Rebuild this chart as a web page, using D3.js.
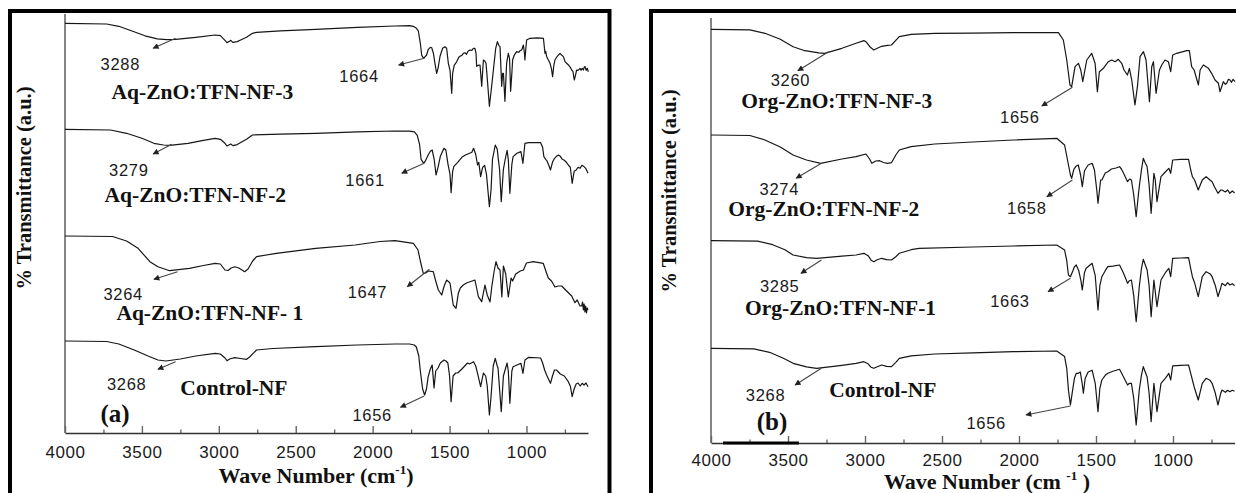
<!DOCTYPE html>
<html><head><meta charset="utf-8">
<script src="https://cdn.jsdelivr.net/npm/d3@7"></script>
<style>html,body{margin:0;padding:0;background:#fff;}svg{display:block;}</style>
</head><body><svg id="chart" width="1236" height="493"></svg>
<script>
// ---------- DATA (wavenumber cm-1, relative transmittance a.u.) ----------
const majorTicks = [4000, 3500, 3000, 2500, 2000, 1500, 1000];
const minorTicks = [3750, 3250, 2750, 2250, 1750, 1250, 750];

// Panel (a)
const aqNF3 = [[4000,0],[3730,-0.7],[3650,-3],[3560,-8],[3480,-12.5],[3400,-15.5],[3340,-16.3],[3280,-16],[3150,-14],[3024,-11.7],[2990,-12.3],[2960,-17],[2947,-19.3],[2930,-18],[2922,-17],[2909,-19],[2880,-18.3],[2858,-16.7],[2820,-14],[2781,-10],[2755,-9],[2600,-7.5],[2370,-6],[2100,-4],[1857,-2.7],[1760,-2.3],[1736,-3],[1715,-5],[1703,-7.7],[1690,-20],[1681,-32],[1668,-35],[1660,-33.5],[1650,-32],[1638,-26],[1625,-24],[1616,-24.5],[1605,-30],[1595,-40],[1584,-50],[1575,-45],[1562,-33],[1545,-25],[1530,-23.5],[1519,-25],[1508,-40],[1497,-47],[1490,-62],[1486,-70],[1480,-50],[1470,-42],[1454,-38.5],[1440,-34],[1432,-33],[1420,-32],[1410,-30],[1400,-29.5],[1390,-31],[1380,-28],[1367,-26.7],[1355,-27],[1345,-25],[1335,-25],[1328,-30],[1324,-43],[1315,-42],[1302,-41.7],[1291,-63],[1280,-36.7],[1270,-38],[1263,-40],[1255,-55],[1241,-83],[1230,-68],[1215,-46.7],[1200,-25],[1189,-18.4],[1180,-22],[1172,-23.3],[1161,-63],[1155,-50],[1150,-50],[1140,-78],[1129,-40],[1118,-30],[1110,-35],[1103,-68],[1095,-50],[1090,-36.7],[1080,-32],[1064,-28.3],[1050,-29],[1040,-27],[1031,-26.7],[1025,-24],[1020,-21.7],[1013,-30],[1010,-36.7],[1004,-25],[999,-16.7],[977,-15],[930,-14.5],[890,-15],[885,-22],[880,-30],[875,-28],[869,-33.3],[860,-36],[847,-40],[838,-45],[830,-53.4],[822,-42],[815,-36.7],[800,-33],[782,-30],[770,-32],[760,-33.3],[750,-38],[739,-40],[725,-42],[715,-44],[706,-46.7],[698,-48],[689,-56.7],[680,-51],[674,-46.7],[665,-47],[652,-45],[645,-47],[638,-45],[630,-46.7],[625,-44],[619,-43.3],[612,-47],[605,-45],[598,-48.4]];
const aqNF2 = [[4000,0],[3704,-0.7],[3600,-4],[3500,-9],[3422,-14],[3360,-15.7],[3320,-16],[3200,-14],[3100,-11],[3024,-9],[2990,-10],[2960,-14],[2947,-16.7],[2922,-14.7],[2909,-16.3],[2880,-15.3],[2858,-13.3],[2820,-10],[2781,-5.7],[2600,-4.8],[2370,-4],[2100,-2.5],[1857,-1.7],[1760,-1.8],[1729,-2.5],[1710,-6],[1695,-15],[1685,-30],[1668,-34],[1655,-31],[1639,-25.7],[1625,-22],[1613,-20.7],[1600,-30],[1588,-45.7],[1575,-38],[1560,-27],[1536,-19],[1524,-20.7],[1510,-35],[1497,-45],[1490,-63.4],[1480,-42],[1472,-37],[1447,-33],[1420,-28],[1400,-26],[1370,-24],[1355,-23],[1344,-19],[1330,-25],[1318,-35.7],[1310,-33],[1298,-47.4],[1285,-38],[1272,-36],[1260,-45],[1241,-77.4],[1230,-60],[1221,-30],[1203,-15.7],[1190,-20],[1185,-27.3],[1175,-40],[1164,-72.4],[1150,-40],[1139,-30.7],[1126,-21],[1118,-30],[1108,-64],[1095,-35],[1087,-27.3],[1062,-24],[1036,-22.3],[1023,-34],[1010,-14],[985,-13.4],[908,-13.4],[895,-18],[887,-27.3],[875,-30],[869,-31],[855,-36],[844,-40.7],[831,-33],[818,-29],[805,-27],[792,-25.7],[780,-27],[767,-30],[754,-31],[740,-33],[728,-35.7],[715,-38],[703,-54],[690,-42],[677,-40.7],[665,-38],[651,-39],[640,-36],[626,-37.3],[615,-39],[600,-44]];
const aqNF1 = [[4000,0],[3691,-0.5],[3600,-5],[3525,-12.3],[3448,-25.7],[3396,-30.7],[3320,-34.7],[3191,-32.3],[3100,-29.5],[3024,-27.3],[2990,-28],[2960,-34],[2940,-34.5],[2920,-32],[2896,-30.7],[2870,-32],[2832,-35.7],[2810,-33],[2780,-25],[2755,-20.7],[2627,-17.3],[2370,-12.3],[2114,-9],[1952,-5.5],[1855,-4.7],[1735,-7.3],[1705,-14],[1690,-25],[1671,-37.3],[1655,-37],[1638,-35],[1606,-35.7],[1590,-45],[1573,-54],[1551,-59],[1535,-50],[1519,-44],[1497,-47],[1476,-69],[1458,-72.3],[1443,-57.3],[1430,-52],[1411,-49],[1390,-47],[1367,-45.7],[1335,-44],[1320,-55],[1313,-60.7],[1291,-65.7],[1270,-49],[1255,-59],[1237,-66],[1225,-50],[1210,-35],[1198,-25.7],[1185,-32],[1172,-34],[1160,-61],[1150,-30],[1135,-38],[1118,-61],[1100,-42],[1090,-45],[1070,-38],[1040,-35],[1020,-34],[1000,-27],[956,-25.7],[891,-27.3],[869,-37.3],[858,-42],[836,-45.3],[815,-51],[793,-50],[771,-50],[739,-55],[706,-60],[685,-66.7],[670,-64],[652,-70],[641,-70],[635,-66],[630,-74],[625,-68],[620,-76],[615,-70],[610,-77],[605,-72],[600,-74]];
const controlA = [[4000,0],[3730,-0.5],[3650,-3],[3550,-9],[3460,-15],[3396,-19],[3345,-20],[3250,-18],[3150,-15],[3024,-12.3],[2990,-13],[2960,-17],[2947,-19.7],[2930,-18],[2896,-16.7],[2860,-17.5],[2819,-18.3],[2800,-16],[2755,-9],[2650,-7.5],[2370,-5.7],[2100,-4],[1857,-3],[1760,-3],[1729,-4],[1716,-6],[1700,-15],[1690,-30],[1675,-48],[1662,-54],[1650,-48],[1639,-35.7],[1625,-28],[1613,-24],[1601,-47],[1590,-30],[1575,-27],[1560,-22],[1536,-19],[1524,-20],[1511,-22],[1500,-35],[1490,-60.7],[1477,-35],[1460,-32],[1447,-32],[1420,-28],[1383,-22],[1370,-23],[1344,-20.7],[1330,-25],[1318,-32.3],[1298,-45.7],[1280,-32],[1265,-35],[1255,-45],[1241,-74],[1230,-55],[1216,-25],[1203,-17.3],[1190,-25],[1185,-27],[1164,-70.7],[1150,-35],[1139,-29],[1126,-22],[1118,-30],[1108,-62.3],[1095,-30],[1087,-25.7],[1062,-24],[1036,-22.3],[1023,-32.3],[1010,-19],[985,-16.3],[908,-17],[895,-22],[882,-29],[869,-34],[844,-42.3],[831,-35],[818,-29],[805,-29],[780,-33],[754,-35],[728,-40.7],[715,-45],[703,-55.7],[690,-48],[677,-43],[665,-42],[651,-45],[638,-42.3],[626,-44],[613,-42],[600,-45.7]];

// Panel (b)
const orgNF3 = [[4000,0],[3748,-0.5],[3650,-4],[3550,-10],[3467,-17.4],[3400,-21],[3300,-23.5],[3263,-24],[3150,-19],[3058,-14],[3007,-11.3],[2990,-13],[2965,-18],[2943,-20.7],[2920,-19],[2892,-17],[2854,-16],[2828,-15.7],[2800,-11],[2777,-7.3],[2700,-5],[2547,-4],[2300,-3.8],[2036,-3.4],[1744,-3.4],[1712,-10.7],[1690,-30.7],[1669,-55.7],[1658,-57.4],[1636,-37.4],[1614,-34],[1599,-40.7],[1586,-52.4],[1560,-30.7],[1528,-24],[1506,-34],[1491,-62.4],[1478,-42.4],[1452,-39],[1420,-32.4],[1398,-30.7],[1376,-32.4],[1355,-30],[1333,-34],[1318,-40.7],[1296,-45.7],[1283,-39],[1268,-50.7],[1247,-75.7],[1231,-57.4],[1214,-27.4],[1192,-22.4],[1175,-30.7],[1153,-72.4],[1138,-37.4],[1127,-32.4],[1110,-64],[1088,-40.7],[1073,-35.7],[1052,-30.7],[1030,-32.4],[1015,-42.4],[1002,-25.7],[976,-24],[911,-21.4],[894,-21.4],[879,-37.4],[863,-40.7],[835,-55.7],[824,-40.7],[803,-35.7],[770,-39],[749,-44],[727,-50.7],[705,-54],[695,-62.4],[673,-52.4],[660,-55],[651,-54],[640,-50],[630,-50.7],[620,-53],[610,-50],[597,-52.4]];
const orgNF2 = [[4000,0],[3748,-0.5],[3650,-5],[3550,-12],[3467,-20],[3380,-25],[3288,-28.3],[3150,-24],[3058,-21.7],[2994,-19],[2970,-24],[2956,-28.3],[2930,-26],[2905,-25.7],[2880,-27.5],[2854,-28.3],[2828,-27.7],[2800,-20],[2777,-15],[2701,-11.7],[2547,-9],[2300,-7],[2036,-5],[1755,-3.3],[1704,-10],[1685,-25],[1666,-40],[1658,-43.3],[1645,-35],[1640,-33.3],[1628,-31],[1615,-30],[1600,-40],[1589,-51.7],[1575,-36],[1564,-33],[1551,-30],[1525,-28.3],[1510,-35],[1495,-55],[1487,-68.3],[1470,-45],[1462,-45],[1440,-38],[1423,-36.7],[1400,-34],[1370,-33],[1347,-31.7],[1335,-34],[1321,-38.3],[1295,-46.7],[1282,-44],[1270,-45],[1255,-60],[1239,-81.7],[1225,-60],[1219,-51.7],[1205,-35],[1193,-23.3],[1180,-28],[1168,-31.7],[1155,-50],[1142,-78.3],[1124,-38.3],[1115,-45],[1104,-66.7],[1078,-41.7],[1050,-37],[1027,-33.3],[1015,-38.3],[1002,-25],[950,-24.3],[899,-24.3],[885,-35],[874,-41.7],[860,-45],[836,-55],[810,-45],[785,-41.7],[760,-45],[746,-46.7],[730,-52],[708,-58.3],[690,-55],[682,-55],[660,-57],[645,-55],[631,-58.3],[615,-56],[600,-58]];
const orgNF1 = [[4000,0],[3697,-0.5],[3600,-4],[3520,-9],[3467,-14.3],[3380,-17],[3314,-17.6],[3150,-15.5],[3058,-14.3],[3007,-12.6],[2980,-15],[2960,-19.5],[2943,-21],[2920,-19],[2892,-17.6],[2860,-19],[2828,-19.3],[2800,-16],[2777,-12.6],[2700,-9],[2649,-7.6],[2300,-6.3],[2036,-5.3],[1755,-4.3],[1704,-9.3],[1690,-20],[1679,-34.3],[1666,-36],[1650,-30],[1640,-26],[1628,-24.3],[1612,-30],[1598,-40],[1589,-49.3],[1575,-32],[1564,-27.6],[1525,-22.6],[1505,-35],[1487,-69.3],[1475,-45],[1462,-36],[1440,-30],[1423,-26],[1390,-25.5],[1347,-24.3],[1321,-32.6],[1295,-42.6],[1283,-40],[1270,-39.3],[1255,-55],[1239,-81],[1219,-46],[1205,-28],[1193,-18.6],[1168,-29.3],[1155,-45],[1142,-76],[1124,-39.3],[1104,-66],[1078,-39.3],[1050,-32],[1027,-27.6],[1015,-36],[1002,-17.6],[950,-17.3],[899,-17],[885,-28],[874,-36],[860,-42],[836,-56],[810,-36],[785,-31],[760,-33],[746,-36],[725,-45],[708,-56],[690,-47],[682,-42.6],[660,-45],[645,-42],[631,-44.3],[615,-43],[600,-45]];
const controlB = [[4000,0],[3722,-0.5],[3620,-4],[3530,-10],[3467,-15],[3380,-18.5],[3314,-20],[3150,-17],[3058,-15],[3007,-13.4],[2980,-15.5],[2960,-19],[2943,-20],[2920,-18.5],[2892,-16.7],[2860,-18],[2828,-18.4],[2800,-14],[2777,-10],[2700,-7.5],[2547,-5.7],[2300,-4.5],[2036,-3.4],[1755,-2.7],[1704,-8.3],[1690,-20],[1679,-41.7],[1666,-56.7],[1655,-45],[1640,-30],[1628,-25],[1615,-25],[1602,-23.7],[1590,-35],[1582,-45],[1570,-30],[1551,-23.7],[1525,-22],[1505,-35],[1487,-63.4],[1475,-40],[1462,-31.7],[1440,-27],[1423,-25],[1390,-23],[1347,-21],[1321,-28.7],[1295,-36.7],[1283,-35],[1270,-35],[1255,-50],[1239,-76.7],[1219,-41.7],[1205,-27],[1193,-18.4],[1168,-28.7],[1155,-45],[1142,-73.4],[1124,-35],[1104,-63.4],[1078,-35],[1050,-30],[1027,-25],[1015,-31.7],[1002,-17.6],[950,-17],[899,-16.7],[885,-25],[874,-31.7],[860,-40],[836,-51.7],[810,-35],[785,-30],[760,-32],[746,-35],[725,-45],[708,-56.7],[690,-45],[682,-41.7],[660,-44],[645,-42],[631,-43.4],[615,-42],[600,-43]];

const offsetsA = [409.7, 303.7, 197, 92];
const offsetsB = [413.7, 308, 202.3, 94.7];

const namesA = ["Aq-ZnO:TFN-NF-3", "Aq-ZnO:TFN-NF-2", "Aq-ZnO:TFN-NF- 1", "Control-NF"];
const namesB = ["Org-ZnO:TFN-NF-3", "Org-ZnO:TFN-NF-2", "Org-ZnO:TFN-NF-1", "Control-NF"];
const nameAtA = [[3697,333.7],[3743,231.3],[3666,113],[3250,38]];
const nameAtB = [[3804,335.5],[3888,227],[3779,128],[3232,45.7]];

const peakTextA = ["3288","1664","3279","1661","3264","1647","3268","1656"];
const peakAtA = [[3640,362.8],[2088,351.3],[3585,257.5],[2049,247.3],[3622,132.8],[2034,134.7],[3599,42.8],[2003,12.3]];
const arrowsA = [[3281,394.7,3427,384.7],[1665,374.7,1831,368],[3307,288.7,3427,279],[1665,269.7,1811,259.7],[3268,161.3,3422,153.7],[1631,163.7,1775,146.3],[3281,71.3,3396,63.7],[1665,37,1819,25.7]];

const peakTextB = ["3260","1656","3274","1658","3285","1663","3268","1656"];
const peakAtB = [[3484,357],[1995,320.3],[3556,247.8],[1949,228.7],[3554,151.3],[2059,136.3],[3646,42.5],[2213,14]];
const arrowsB = [[3237,391.3,3436,372.3],[1653,355.7,1852,337],[3283,279.7,3447,264.7],[1653,263,1819,246.3],[3283,183,3416,169.7],[1666,164.7,1811,151.3],[3283,74.7,3454,58],[1666,37,1955,28]];

const tagA = ["(a)", 3675, 11];
const tagB = ["(b)", 3604, 13];
const barB = [3922, 3429];

// ---------- DRAW ----------
const svg = d3.select("#chart");
svg.append("rect").attr("width",1236).attr("height",493).attr("fill","#fff");
const defs = svg.append("defs");
defs.append("marker").attr("id","ah").attr("viewBox","0 0 10 10").attr("refX",9).attr("refY",5)
  .attr("markerWidth",8).attr("markerHeight",6).attr("markerUnits","userSpaceOnUse").attr("orient","auto")
  .append("path").attr("d","M0,0L10,5L0,10Z").attr("fill","#222");

const serif = "'Liberation Serif', 'Times New Roman', 'DejaVu Serif', serif";
const sans = "'Liberation Sans', Arial, sans-serif";

const panels = [
  {frame:[10,11,599.5,620], xr:[65,588], yr:[433,13], ydom:[0,420], yTop:14,
   series:[aqNF3,aqNF2,aqNF1,controlA], offsets:offsetsA, names:namesA, nameAt:nameAtA,
   peakText:peakTextA, peakAt:peakAtA, arrows:arrowsA, tag:tagA, labDy:25,
   xTitle:[316,483,"Wave Number (cm","-1",")"], yTitle:[24,188]},
  {frame:[651,11,700,620], xr:[711,1234.6], yr:[443,18], ydom:[0,425], yTop:18,
   series:[orgNF3,orgNF2,orgNF1,controlB], offsets:offsetsB, names:namesB, nameAt:nameAtB,
   peakText:peakTextB, peakAt:peakAtB, arrows:arrowsB, tag:tagB, labDy:23, bar:barB,
   xTitle:[987,489,"Wave Number (cm ","-1"," )"], yTitle:[669,191]}
];

panels.forEach(p => {
  const g = svg.append("g");
  g.append("rect").attr("x",p.frame[0]).attr("y",p.frame[1]).attr("width",p.frame[2]).attr("height",p.frame[3])
    .attr("fill","none").attr("stroke","#000").attr("stroke-width",4);
  const x = d3.scaleLinear().domain([4000,600]).range(p.xr);
  const y = d3.scaleLinear().domain(p.ydom).range(p.yr);

  g.append("line").attr("x1",p.xr[0]).attr("x2",p.xr[0]).attr("y1",p.yTop).attr("y2",p.yr[0])
    .attr("stroke","#858585").attr("stroke-width",2);

  const minorAx = g.append("g").attr("transform",`translate(0,${p.yr[0]})`)
    .call(d3.axisBottom(x).tickValues(minorTicks).tickSizeInner(-3.5).tickSizeOuter(0).tickFormat(""));
  minorAx.select(".domain").remove();
  minorAx.selectAll("line").attr("stroke","#555").attr("stroke-width",1.2);
  const majorAx = g.append("g").attr("transform",`translate(0,${p.yr[0]})`)
    .call(d3.axisBottom(x).tickValues(majorTicks).tickSizeInner(-7).tickSizeOuter(0).tickPadding(0).tickFormat(d3.format("d")));
  majorAx.select(".domain").attr("stroke","#333").attr("stroke-width",1.4);
  majorAx.selectAll(".tick line").attr("stroke","#666").attr("stroke-width",1.4);
  majorAx.selectAll(".tick text").attr("y",p.labDy).attr("dy",null).attr("fill","#1a1a1a")
    .attr("font-family",sans).attr("font-size",17).attr("letter-spacing",0.6);

  if (p.bar) {
    g.append("line").attr("x1",x(p.bar[0])).attr("x2",x(p.bar[1])).attr("y1",p.yr[0]).attr("y2",p.yr[0])
      .attr("stroke","#000").attr("stroke-width",3);
  }

  p.series.forEach((s,i) => {
    const off = p.offsets[i];
    g.append("path").datum(s)
      .attr("d", d3.line().x(d => x(d[0])).y(d => y(d[1] + off)))
      .attr("fill","none").attr("stroke","#161616").attr("stroke-width",1.2).attr("stroke-linejoin","round");
  });

  p.arrows.forEach(a => {
    g.append("line").attr("x1",x(a[0])).attr("y1",y(a[1])).attr("x2",x(a[2])).attr("y2",y(a[3]))
      .attr("stroke","#444").attr("stroke-width",1.1).attr("marker-end","url(#ah)");
  });

  p.peakText.forEach((t,i) => {
    g.append("text").attr("x",x(p.peakAt[i][0])).attr("y",y(p.peakAt[i][1])).attr("text-anchor","middle")
      .attr("font-family",sans).attr("font-size",16.5).attr("letter-spacing",0.7)
      .attr("fill","#1a1a1a").text(t);
  });

  p.names.forEach((t,i) => {
    g.append("text").attr("x",x(p.nameAt[i][0])).attr("y",y(p.nameAt[i][1]))
      .attr("font-family",serif).attr("font-weight","bold")
      .attr("font-size",21.5).attr("fill","#111").text(t);
  });

  g.append("text").attr("x",x(p.tag[1])).attr("y",y(p.tag[2])).attr("text-anchor","middle")
    .attr("font-family",serif).attr("font-weight","bold")
    .attr("font-size",25).attr("fill","#111").text(p.tag[0]);

  const xt = g.append("text").attr("x",p.xTitle[0]).attr("y",p.xTitle[1]).attr("text-anchor","middle")
    .attr("font-family",serif).attr("font-weight","bold")
    .attr("font-size",22).attr("fill","#111");
  xt.append("tspan").text(p.xTitle[2]);
  xt.append("tspan").attr("font-size",13).attr("dy",-9).text(p.xTitle[3]);
  xt.append("tspan").attr("dy",9).text(p.xTitle[4]);

  g.append("text").attr("transform",`translate(${p.yTitle[0]},${p.yTitle[1]}) rotate(-90)`)
    .attr("text-anchor","middle").attr("dy","0.35em")
    .attr("font-family",serif).attr("font-weight","bold")
    .attr("font-size",20.5).attr("fill","#111").text("% Transmittance (a.u.)");
});
</script></body></html>
